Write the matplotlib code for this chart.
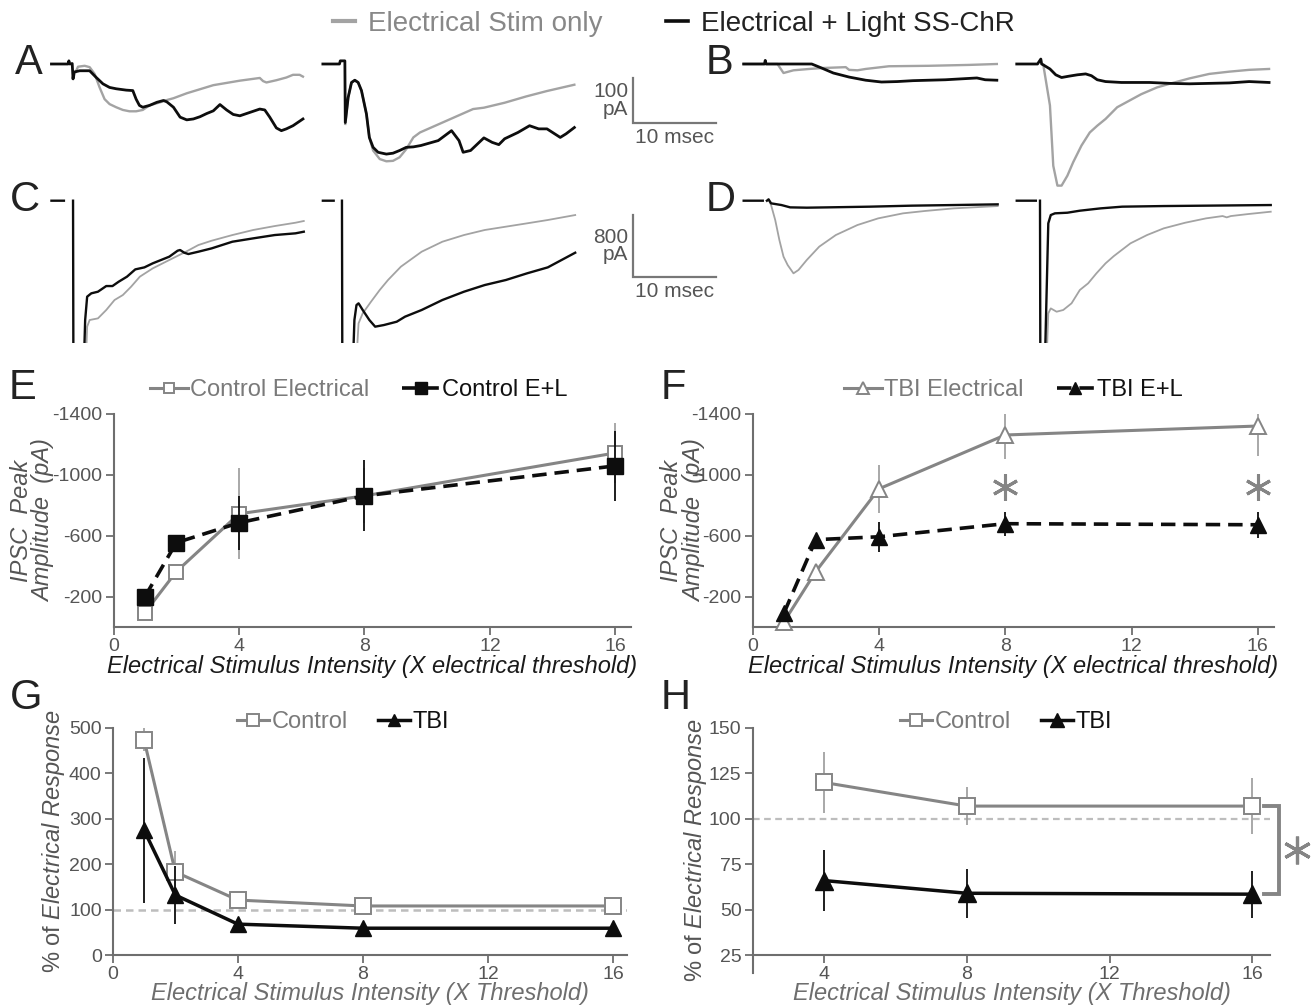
import numpy as np
import matplotlib
matplotlib.use("Agg")
import matplotlib.pyplot as plt

plt.rcParams['font.family'] = ['Liberation Sans', 'DejaVu Sans']
plt.rcParams['axes.unicode_minus'] = False
plt.rcParams['mathtext.fontset'] = 'custom'
plt.rcParams['mathtext.rm'] = 'Liberation Sans'
plt.rcParams['mathtext.it'] = 'Liberation Sans:italic'

nan = np.nan

# ---- example sweeps (msec from sweep start, pA) ----
# "elec" = Electrical Stim only (gray), "comb" = Electrical + Light SS-ChR (black)
a1_comb_t = [0, 2.0, 2.1, 2.2, 2.5, 2.6, 2.7, 3.4, 4.6, 5.4, 6.2, 7.0, 7.8, 9.0, 9.8, 10.2, 10.6, 11.0, 11.8, 12.7,
             13.5, 13.9, 14.7, 15.5, 16.3, 17.1, 17.9, 18.7, 19.5, 20.3, 21.1, 21.9, 22.7, 23.5, 24.3, 25.1, 25.7,
             26.3, 27.1, 27.7, 28.3, 29.1, 29.9, 30.3]
a1_comb_pa = [0, 0, 7, 0, 1, -33, -18, -15, -15, -30, -44, -52, -55, -58, -59, -78, -92, -96, -92, -85,
              -81, -84, -96, -118, -124, -122, -117, -110, -104, -90, -102, -112, -115, -110, -105, -100, -102,
              -118, -142, -148, -144, -137, -127, -122]
a1_elec_t = [2.6, 2.8, 3.2, 4.0, 4.6, 5.2, 5.8, 6.4, 7.0, 7.8, 8.6, 9.4, 10.2, 11.0, 11.8, 13.1, 13.9, 14.7, 16.3,
             17.9, 19.5, 21.1, 22.7, 24.3, 25.1, 25.5, 25.9, 27.1, 28.3, 29.1, 29.9, 30.3]
a1_elec_pa = [-33, -22, -6, -4, -7, -22, -52, -78, -89, -96, -102, -105, -105, -102, -92, -85, -80, -76, -65,
              -56, -47, -42, -37, -33, -31, -38, -41, -36, -30, -24, -24, -28]

a2_comb_t = [0, 2.0, 2.1, 2.65, 2.7, 3.05, 3.45, 3.85, 4.25, 4.65, 5.25, 5.6, 6.05, 6.65, 7.65, 8.45, 9.25, 10.05,
             10.9, 11.8, 13.9, 15.5, 16.4, 16.9, 17.8, 19.4, 20.4, 21.2, 21.9, 23.5, 24.9, 26.0, 27.0, 28.6, 29.3, 30.3]
a2_comb_pa = [0, 0, 7, 7, -130, -74, -41, -36, -41, -59, -111, -163, -185, -196, -200, -198, -192, -185,
              -184, -181, -170, -148, -170, -196, -192, -164, -174, -179, -166, -152, -137, -144, -144, -163, -155, -141]
a2_elec_t = [2.7, 3.05, 3.45, 3.85, 4.25, 4.65, 5.25, 5.6, 6.05, 6.85, 7.65, 8.45, 9.25, 10.05, 10.9, 11.7, 13.3,
             14.9, 16.5, 18.1, 19.4, 21.9, 24.5, 27.0, 30.3]
a2_elec_pa = [-133, -74, -41, -36, -41, -59, -111, -163, -192, -211, -216, -215, -207, -189, -163, -152, -139,
              -126, -113, -100, -97, -86, -72, -60, -46]

b1_comb_t = [0, 2.5, 2.6, 2.7, 8.2, 9.4, 10.8, 12.7, 14.7, 16.6, 18.5, 20.4, 22.3, 24.3, 26.2, 28.1, 29.1, 30.5]
b1_comb_pa = [0, 0, 8, 0, 0, -9, -20, -29, -36, -40, -39, -37, -36, -35, -33, -31, -35, -36]
b1_elec_t = [0, 4.07, 4.8, 6.0, 7.9, 9.4, 12.3, 12.7, 13.7, 14.7, 17.5, 22.3, 27.2, 30.5]
b1_elec_pa = [0, 0, -20, -14, -11, -9, -7, -13, -14, -11, -5, -4, -2, 0]

b2_comb_t = [0, 2.5, 2.9, 3.0, 3.2, 4.0, 4.7, 5.4, 6.3, 7.3, 8.3, 9.0, 9.7, 10.7, 12.6, 16.0, 18.4, 20.8, 23.2,
             25.6, 28.0, 30.4]
b2_comb_pa = [0, 0, 11, 0, -2, -11, -24, -30, -27, -24, -22, -26, -35, -39, -41, -41, -43, -44, -43,
              -42, -39, -41]
b2_elec_t = [3.2, 4.0, 4.4, 4.9, 5.4, 6.1, 6.8, 7.8, 8.8, 9.7, 10.7, 12.1, 13.6, 15.0, 16.9, 18.4, 20.8, 23.2,
             25.6, 28.0, 30.4]
b2_elec_pa = [-2, -92, -226, -270, -270, -248, -218, -181, -152, -137, -122, -96, -81, -67, -52, -44, -32, -22,
              -17, -13, -11]

c1_comb_t = [0, 1.5, nan, 2.6, 2.65, 3.8, 4.06, 4.3, 4.8, 5.6, 6.6, 7.35, 8.1, 9.1, 10.1, 11.2, 12.2, 13.2, 14.2,
             15.2, 15.5, 16.0, 16.5, 17.7, 19.3, 21.8, 24.3, 26.9, 29.4, 30.4]
c1_comb_pa = [0, 0, nan, 0, -2500, -2500, -1539, -1238, -1195, -1174, -1101, -1101, -1045, -980, -886, -860, -808,
              -765, -722, -645, -636, -671, -688, -658, -615, -529, -486, -443, -421, -400]
c1_elec_t = [4.0, 4.3, 4.6, 5.6, 6.6, 7.6, 8.6, 9.6, 10.65, 12.2, 14.2, 16.2, 17.7, 19.3, 21.8, 24.3, 26.9, 29.4, 30.4]
c1_elec_pa = [-2500, -1625, -1539, -1518, -1410, -1281, -1217, -1109, -980, -873, -765, -658, -572, -516, -443,
              -378, -327, -284, -262]

c2_comb_t = [0, 1.3, nan, 2.3, 2.35, 3.5, 3.8, 4.05, 4.3, 4.8, 5.6, 6.3, 7.35, 8.9, 9.9, 11.9, 14.4, 17.0, 19.5,
             22.05, 24.6, 27.1, 30.4]
c2_comb_pa = [0, 0, nan, 0, -2500, -2500, -1539, -1346, -1324, -1410, -1539, -1625, -1604, -1561, -1496, -1410,
              -1281, -1174, -1088, -1023, -937, -860, -671]
c2_elec_t = [3.8, 4.3, 4.8, 5.8, 6.85, 7.85, 9.4, 11.9, 14.4, 17.0, 19.5, 22.05, 24.6, 27.1, 30.4]
c2_elec_pa = [-2500, -1582, -1453, -1303, -1152, -1023, -851, -658, -529, -443, -378, -335, -292, -249, -185]

d1_comb_t = [0, 2.3, nan, 2.8, 3.0, 3.3, 4.55, 5.6, 7.6, 10.1, 15.2, 20.25, 25.3, 30.6]
d1_comb_pa = [0, 0, nan, 0, 17, -34, -56, -86, -90, -86, -77, -64, -56, -47]
d1_elec_t = [3.0, 3.3, 3.8, 4.3, 4.8, 5.3, 6.0, 6.6, 7.6, 9.1, 11.1, 13.7, 16.2, 19.2, 21.8, 25.3, 30.6]
d1_elec_pa = [17, -56, -249, -507, -722, -830, -937, -894, -765, -593, -443, -314, -228, -163, -133, -99, -69]

d2_comb_t = [0, 2.3, nan, 2.8, 2.85, 3.3, 3.8, 4.1, 4.6, 6.1, 7.6, 10.1, 12.7, 17.7, 22.8, 30.6]
d2_comb_pa = [0, 0, nan, 0, -2500, -2500, -292, -185, -163, -155, -129, -99, -77, -69, -64, -56]
d2_elec_t = [3.45, 3.8, 4.1, 4.8, 5.6, 6.6, 7.6, 8.6, 9.6, 10.7, 11.7, 13.7, 15.7, 17.7, 20.3, 22.8, 24.8, 25.3,
             25.8, 27.9, 30.6]
d2_elec_pa = [-2500, -1453, -1389, -1432, -1410, -1324, -1152, -1066, -937, -808, -714, -550, -443, -357, -284,
              -228, -198, -215, -198, -172, -142]

# ---- group data ----
stim = [1, 2, 4, 8, 16]
ctrl_elec = [-95, -364, -744, -862, -1144]
ctrl_elec_err = [20, 20, 300, 180, 197]
ctrl_el = [-200, -554, -685, -862, -1059]
ctrl_el_err = [30, 20, 177, 233, 229]
tbi_elec = [-36, -364, -908, -1262, -1321]
tbi_elec_err = [15, 20, 160, 160, 200]
tbi_el = [-95, -574, -593, -679, -672]
tbi_el_err = [20, 40, 100, 80, 85]
sig_f = [8, 16]

pct_ctrl = [474, 183, 121, 108, 108]
pct_ctrl_err = [25, 45, 8, 6, 6]
pct_tbi = [275, 132, 68, 59, 59]
pct_tbi_err = [160, 63, 8, 5, 5]

stim_h = [4, 8, 16]
h_ctrl = [120, 107, 107]
h_ctrl_err = [17, 10.5, 15.5]
h_tbi = [66, 59, 58.5]
h_tbi_err = [17, 13.5, 13]

# colours
TRACE_GRAY = '#a3a3a3'
GRAY = '#858585'
ERR_GRAY = '#9a9a9a'
BLACK = '#0d0d0d'
TXT = '#555555'
SPINE = '#6e6e6e'

W, H = 1316, 1007
fig = plt.figure(figsize=(W / 100, H / 100), dpi=100)


def box(x0, y0, x1, y1):
    # pixel box (top-left origin) -> figure fraction
    return [x0 / W, 1 - y1 / H, (x1 - x0) / W, (y1 - y0) / H]


# ---- sweeps A-D ----
px_ms = 8.3
offsets = [6.2, 38.9, 89.6, 122.5]

axAB = fig.add_axes(box(0, 40, W, 200))
axAB.set_xlim(0, W / px_ms)
axAB.set_ylim(-(200 - 64) * 2.22, (64 - 40) * 2.22)
axCD = fig.add_axes(box(0, 190, W, 343))
axCD.set_xlim(0, W / px_ms)
axCD.set_ylim(-(343 - 200.7) * 12.9, (200.7 - 190) * 12.9)

rows = [
    (axAB, [(a1_elec_t, a1_elec_pa), (a2_elec_t, a2_elec_pa), (b1_elec_t, b1_elec_pa), (b2_elec_t, b2_elec_pa)],
     [(a1_comb_t, a1_comb_pa), (a2_comb_t, a2_comb_pa), (b1_comb_t, b1_comb_pa), (b2_comb_t, b2_comb_pa)], 1.7, 2.0),
    (axCD, [(c1_elec_t, c1_elec_pa), (c2_elec_t, c2_elec_pa), (d1_elec_t, d1_elec_pa), (d2_elec_t, d2_elec_pa)],
     [(c1_comb_t, c1_comb_pa), (c2_comb_t, c2_comb_pa), (d1_comb_t, d1_comb_pa), (d2_comb_t, d2_comb_pa)], 1.3, 1.7),
]
for ax, elec, comb, lwg, lwb in rows:
    for off, (gt, gp), (bt, bp) in zip(offsets, elec, comb):
        ax.plot(np.asarray(gt) + off, gp, color=TRACE_GRAY, lw=lwg)
        ax.plot(np.asarray(bt) + off, bp, color=BLACK, lw=lwb)
    ax.axis('off')

# scale bars
sb_x = 76.3
for ax, amp, y0, dy in ((axAB, 100, -131, 12), (axCD, 800, -984, 70)):
    ax.plot([sb_x, sb_x, sb_x + 10], [y0 + amp, y0, y0], color='#777777', lw=1.6, solid_joinstyle='miter')
    ax.text(sb_x - 0.6, y0 + amp / 2, f"{amp}\npA", ha='right', va='center', fontsize=15, color=TXT,
            linespacing=0.92)
    ax.text(sb_x + 5, y0 - dy, "10 msec", ha='center', va='top', fontsize=15, color=TXT)

top_leg = fig.legend([plt.Line2D([], [], color=TRACE_GRAY, lw=3), plt.Line2D([], [], color=BLACK, lw=2.6)],
                     ["Electrical Stim only", "Electrical + Light SS-ChR"], loc='center',
                     bbox_to_anchor=(0.512, 0.976), ncol=2, frameon=False, fontsize=20, handlelength=0.8,
                     handletextpad=0.45, columnspacing=2.3)
for t, c in zip(top_leg.get_texts(), ['#888888', '#222222']):
    t.set_color(c)


def style(ax):
    for s in ['top', 'right']:
        ax.spines[s].set_visible(False)
    for s in ['left', 'bottom']:
        ax.spines[s].set_color(SPINE)
        ax.spines[s].set_linewidth(1.5)
    ax.tick_params(direction='out', length=6, width=1.3, color=SPINE, labelcolor=TXT, labelsize=14, pad=2)


def leg(ax, anchor, hl, cs):
    lg = ax.legend(loc='center', bbox_to_anchor=anchor, ncol=2, frameon=False, fontsize=17, handlelength=hl,
                   handletextpad=0.1, columnspacing=cs, borderaxespad=0, borderpad=0, markerscale=0.75)
    for t, c in zip(lg.get_texts(), ['#7a7a7a', '#111111']):
        t.set_color(c)


# ---- E and F ----
panels_ef = [
    (box(113.6, 414, 631, 627), ctrl_elec, ctrl_elec_err, ctrl_el, ctrl_el_err, 's',
     'Control Electrical', 'Control E+L', -0.112, 0.474),
    (box(752.6, 414, 1273.6, 627), tbi_elec, tbi_elec_err, tbi_el, tbi_el_err, '^',
     'TBI Electrical', 'TBI E+L', -0.0895, 0.50),
]
ef_axes = []
for rect, ge, gerr, be, berr, mk, lg1, lg2, ylx, lgx in panels_ef:
    ax = fig.add_axes(rect)
    style(ax)
    ms = 10 if mk == 's' else 11
    ax.errorbar(stim, ge, yerr=gerr, fmt='none', ecolor=ERR_GRAY, elinewidth=1.2, capsize=0, zorder=2)
    ax.plot(stim, ge, color=GRAY, lw=2.2, marker=mk, ms=ms, mfc='white', mec=GRAY, mew=1.4,
            label=lg1, zorder=3, clip_on=False)
    ax.errorbar(stim, be, yerr=berr, fmt='none', ecolor=BLACK, elinewidth=1.3, capsize=0, zorder=4)
    ax.plot(stim, be, color=BLACK, lw=2.6, ls=(0, (4, 2.2)), marker=mk, ms=ms + 1, mfc=BLACK, mec=BLACK,
            label=lg2, zorder=5, clip_on=False)
    ax.set_xlim(0, 16.5)
    ax.set_ylim(0, -1400)
    ax.set_xticks([0, 4, 8, 12, 16])
    ax.set_yticks([-200, -600, -1000, -1400])
    ax.set_ylabel("IPSC  Peak\nAmplitude  (pA)", fontsize=17, style='italic', color=TXT, linespacing=1.0)
    ax.yaxis.set_label_coords(ylx, 0.5)
    ax.set_xlabel("Electrical Stimulus Intensity (X electrical threshold)", fontsize=17, style='italic',
                  color='#1a1a1a', labelpad=0)
    leg(ax, (lgx, 1.113), 1.6, 1.4)
    ef_axes.append(ax)

axF = ef_axes[1]
axF.plot(sig_f, [-920] * len(sig_f), ls='none', marker=(6, 2, 0), ms=19, mew=2.2, color=GRAY, zorder=6)

# ---- G ----
axG = fig.add_axes(box(112.8, 728, 627, 955))
style(axG)
axG.axhline(100, color='#bdbdbd', ls=(0, (3, 2)), lw=1.8, zorder=1)
axG.errorbar(stim, pct_ctrl, yerr=pct_ctrl_err, fmt='none', ecolor=ERR_GRAY, elinewidth=1.2, capsize=0, zorder=2)
axG.plot(stim, pct_ctrl, color=GRAY, lw=2.2, marker='s', ms=11, mfc='white', mec=GRAY, mew=1.4,
         label='Control', zorder=3)
axG.errorbar(stim, pct_tbi, yerr=pct_tbi_err, fmt='none', ecolor=BLACK, elinewidth=1.3, capsize=0, zorder=4)
axG.plot(stim, pct_tbi, color=BLACK, lw=2.5, marker='^', ms=12, mfc=BLACK, mec=BLACK, label='TBI', zorder=5)
axG.set_xlim(0, 16.45)
axG.set_ylim(0, 500)
axG.set_xticks([0, 4, 8, 12, 16])
axG.set_yticks([0, 100, 200, 300, 400, 500])

# ---- H ----
axH = fig.add_axes(box(752.6, 728, 1270.3, 973))
style(axH)
axH.spines['bottom'].set_position(('data', 25))
axH.axhline(100, color='#bdbdbd', ls=(0, (3, 2)), lw=1.6, zorder=1)
axH.errorbar(stim_h, h_ctrl, yerr=h_ctrl_err, fmt='none', ecolor=ERR_GRAY, elinewidth=1.2, capsize=0, zorder=2)
axH.plot(stim_h, h_ctrl, color=GRAY, lw=2.2, marker='s', ms=12, mfc='white', mec=GRAY, mew=1.4,
         label='Control', zorder=3)
axH.errorbar(stim_h, h_tbi, yerr=h_tbi_err, fmt='none', ecolor=BLACK, elinewidth=1.3, capsize=0, zorder=4)
axH.plot(stim_h, h_tbi, color=BLACK, lw=2.5, marker='^', ms=13, mfc=BLACK, mec=BLACK, label='TBI', zorder=5)
axH.set_xlim(2, 16.5)
axH.set_ylim(15.1, 150)
axH.set_xticks([4, 8, 12, 16])
axH.set_yticks([25, 50, 75, 100, 125, 150])
# significance bracket between the two groups at 16X
axH.plot([16.32, 16.73, 16.73, 16.32], [h_ctrl[-1], h_ctrl[-1], h_tbi[-1], h_tbi[-1]], color=GRAY, lw=2.8,
         clip_on=False, solid_joinstyle='miter')
axH.plot([17.25], [(h_ctrl[-1] + h_tbi[-1]) / 2], ls='none', marker=(6, 2, 0), ms=20, mew=2.3, color=GRAY,
         clip_on=False)

for ax, ylx, lgx in ((axG, -0.089, 0.448), (axH, -0.084, 0.49)):
    ax.set_ylabel(r"% of $\mathit{Electrical\ Response}$", fontsize=17, color=TXT)
    ax.yaxis.set_label_coords(ylx, 0.5)
    ax.set_xlabel("Electrical Stimulus Intensity (X Threshold)", fontsize=17, style='italic', color='#6e6e6e',
                  labelpad=-1)
    leg(ax, (lgx, 1.026 if ax is axG else 1.024), 1.35, 1.3)

# panel letters
for letter, x, y in (('A', 15, 63), ('B', 706, 63), ('C', 10, 200), ('D', 706, 200),
                     ('E', 9, 388), ('F', 661, 388), ('G', 10, 698), ('H', 661, 698)):
    fig.text(x / W, 1 - y / H, letter, fontsize=30, color='#222222', ha='left', va='center')

fig.savefig('out.png', dpi=100)
